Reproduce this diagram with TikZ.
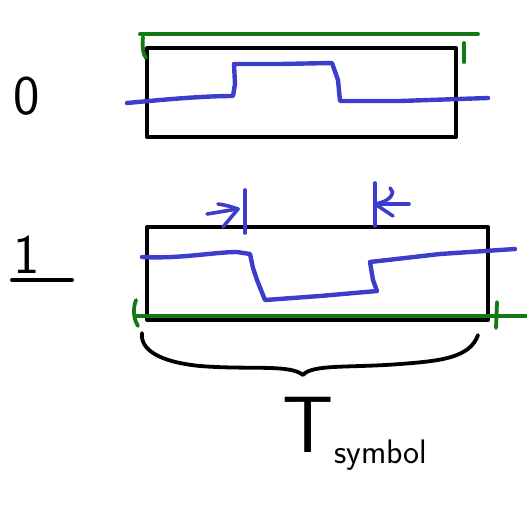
\documentclass[tikz,border=0pt]{standalone}
\definecolor{pen}{RGB}{60,60,205}
\definecolor{rule}{RGB}{20,120,20}
\tikzset{
  frame/.style={draw=black, line width=4pt, line join=round},
  signal/.style={draw=pen, line width=4.4pt, line cap=round, line join=round},
  span/.style={draw=rule, line width=3.8pt, line cap=round, line join=round},
  marker/.style={draw=pen, line width=3.6pt, line cap=round, line join=round},
  brace/.style={draw=black, line width=3.8pt, line cap=round, line join=round},
  digit/.style={font=\sffamily\fontsize{56}{58}\selectfont, inner sep=0pt},
}
\begin{document}
\begin{tikzpicture}[x=1pt, y=-1pt]
  \useasboundingbox (0,0) rectangle (527,514);

  % symbol labels
  \node[digit] (zero) at (27,96) {0};
  \node[digit] (one) at (27,255) {1};
  \coordinate (ulA) at (12,280);
  \coordinate (ulB) at (72,280);
  \draw[brace] (ulA) -- (ulB);

  % symbol 0: frame, span marks and waveform
  \draw[frame] (147,48) rectangle (456,137);
  \draw[span] (140,34) -- (478,34);
  \draw[span] (143,37) .. controls (142,45) and (143,55) .. (146,58);
  \draw[span] (464,43) -- (464,62);
  \draw[signal] (127,103) .. controls (170,99) and (205,96) .. (233,96)
    -- (235,84) -- (234,64) -- (280,64) -- (332,63)
    -- (338,80) -- (340,101) -- (400,101) -- (488,98);

  % symbol 1: frame, span marks and waveform
  \draw[frame] (147,227) rectangle (488,320);
  \draw[span] (135,316) -- (527,316);
  \draw[span] (136,300) .. controls (133,308) and (133,318) .. (138,326);
  \draw[span] (497,302) -- (496,328);
  \draw[signal] (142,257) .. controls (180,259) and (215,252) .. (237,252)
    -- (250,254) -- (253,268) -- (257,280) -- (265,300)
    -- (320,296) -- (377,291) -- (373,280) -- (370,262)
    -- (440,254) -- (515,249);

  % edge markers with arrows pointing at them
  \draw[marker] (245,190) -- (245,233);
  \draw[marker] (207,214) .. controls (220,212) and (230,210) .. (238,209);
  \draw[marker] (218,204) .. controls (226,205) and (232,207) .. (238,209);
  \draw[marker] (223,227) -- (238,209);
  \draw[marker] (375,183) -- (375,226);
  \draw[marker] (409,204) -- (375,204);
  \draw[marker] (390,188) .. controls (395,191) and (393,201) .. (375,204);
  \draw[marker] (393,216) -- (375,204);

  % brace under the second frame
  \draw[brace] (142,333) .. controls (140,350) and (160,362) .. (200,366)
    .. controls (250,370) and (290,364) .. (303,375)
    .. controls (312,364) and (350,368) .. (400,364)
    .. controls (440,361) and (470,358) .. (478,335);

  % duration label
  \node[font=\sffamily\fontsize{80}{82}\selectfont, inner sep=0pt, anchor=base] (tee) at (308,452) {T};
  \node[font=\sffamily\fontsize{34}{36}\selectfont, inner sep=0pt, anchor=base west] (sub) at (334,463) {symbol};
\end{tikzpicture}
\end{document}
